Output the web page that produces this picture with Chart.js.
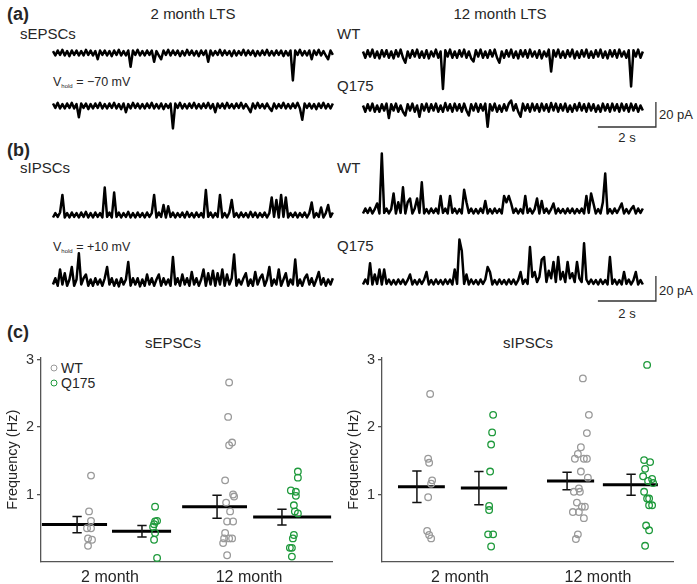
<!DOCTYPE html>
<html>
<head>
<meta charset="UTF-8">
<title>LTS interneurons - sEPSCs / sIPSCs</title>
<style>
  body { margin: 0; background: #fff; font-family: "Liberation Sans", Arial, sans-serif; color: #262626; }
  #fig { position: relative; width: 697px; height: 584px; overflow: hidden; }
  #fig canvas { position: absolute; }
  .t { position: absolute; white-space: nowrap; line-height: 1; transform: translateY(-50%); font-size: 15px; }
  .c { transform: translate(-50%, -50%); }
  .b { font-weight: bold; font-size: 18px; }
  .v { font-size: 12.5px; }
  .v span { font-size: 6px; position: relative; top: 2px; }
  .sc { font-size: 13px; }
  .dot { position: absolute; width: 5px; height: 5px; border: 1.4px solid; border-radius: 50%; transform: translate(-50%, -50%); }
</style>
</head>
<body>
<div id="fig">
  <div class="t b" style="left:7px;top:14px">(a)</div>
  <div class="t c" style="left:193px;top:13px">2 month LTS</div>
  <div class="t c" style="left:500px;top:13px">12 month LTS</div>
  <div class="t" style="left:20px;top:33px">sEPSCs</div>
  <div class="t" style="left:337px;top:33px">WT</div>
  <div class="t v" style="left:53px;top:82px">V<span>hold</span> = −70 mV</div>
  <div class="t" style="left:337px;top:85px">Q175</div>
  <div class="t sc" style="left:659px;top:114px">20 pA</div>
  <div class="t sc c" style="left:627px;top:137px">2 s</div>

  <div class="t b" style="left:7px;top:150px">(b)</div>
  <div class="t" style="left:20px;top:167px">sIPSCs</div>
  <div class="t" style="left:337px;top:167px">WT</div>
  <div class="t v" style="left:53px;top:247px">V<span>hold</span> = +10 mV</div>
  <div class="t" style="left:337px;top:245px">Q175</div>
  <div class="t sc" style="left:659px;top:290px">20 pA</div>
  <div class="t sc c" style="left:627px;top:313px">2 s</div>

  <div class="t b" style="left:7px;top:332px">(c)</div>
  <div class="t c" style="left:173px;top:342px">sEPSCs</div>
  <div class="t c" style="left:528px;top:342px">sIPSCs</div>
  <div class="dot" style="left:54px;top:368px;border-color:#9a9a9a"></div>
  <div class="t" style="left:61px;top:368px;font-size:14px">WT</div>
  <div class="dot" style="left:54px;top:383px;border-color:#1f9a3c"></div>
  <div class="t" style="left:61px;top:383px;font-size:14px">Q175</div>

  <canvas id="tr1" width="286" height="50" style="left:50px;top:38px"></canvas>
  <canvas id="tr2" width="286" height="45" style="left:50px;top:90px"></canvas>
  <canvas id="tr3" width="286" height="55" style="left:360px;top:38px"></canvas>
  <canvas id="tr4" width="310" height="45" style="left:360px;top:90px"></canvas>
  <canvas id="tr5" width="286" height="48" style="left:50px;top:180px"></canvas>
  <canvas id="tr6" width="286" height="50" style="left:50px;top:245px"></canvas>
  <canvas id="tr7" width="286" height="75" style="left:360px;top:145px"></canvas>
  <canvas id="tr8" width="310" height="80" style="left:360px;top:228px"></canvas>

  <canvas id="epscChart" width="345" height="254" style="left:0px;top:330px"></canvas>
  <canvas id="ipscChart" width="345" height="254" style="left:341px;top:330px"></canvas>
</div>

<script src="https://cdn.jsdelivr.net/npm/chart.js"></script>
<script>
  // current traces (pA), downsampled, 120 samples over the 9.65 s sweep
  const epsc2moWT = [
    1.5,-2,2,-1.5,2.5,-2,1.5,-2.5,2,-1.5,2,-2,1.5,-2,2.5,-1.5,2,-2,1.5,-5,
    2,-1.5,2,-2,1.5,-2.5,2,-1.5,2.5,-2,1.5,-2,2,-11,2,-1.5,2.5,-2,1.5,-2,
    2,-1.5,2,-7,1.5,-2,-5,2,-1.5,2.5,-2,2,-1.5,2,-2.5,1.5,-2,2.5,-1.5,2,
    -2,1.5,-2.5,2,-1.5,2,-7,2,-2,1.5,-1.5,2.5,-2,2,-1.5,1.5,-2.5,2,-2,1.5,
    -1.5,2.5,-2,2,-1.5,2,-2.5,1.5,-2,2,-1.5,2.5,-2,1.5,-2,2,-1.5,2,-2.5,1.5,
    -2,2,-22,2,-1.5,2.5,-2,1.5,-2,2,-5,2,-1.5,2.5,-2,1.5,-2,-5,2,-1.5
  ];
  const epsc2moQ175 = [
    2,-1.5,2.5,-2,1.5,-2,2,-1.5,2.5,-2,1.5,-9,2,-1.5,2,-2.5,1.5,-2,2,-1.5,
    2.5,-2,1.5,-2,2,-1.5,2.5,-2,1.5,-2.5,2,-5,1.5,-2,2.5,-1.5,2,-2,1.5,-2,
    2,-1.5,2.5,-2,1.5,-2,2,-2.5,1.5,-1.5,2,-18,2,-1.5,2.5,-2,1.5,-2,2,-1.5,
    2.5,-2,1.5,-2,2,-1.5,2.5,-2,1.5,-5,2,-1.5,2,-2,2.5,-1.5,1.5,-2,2,-1.5,
    2.5,-2,1.5,-1.5,-5,2,-2,2.5,-1.5,1.5,-2,2,-1.5,-4,2,-2,1.5,-1.5,2.5,-2,
    1.5,-2,2,-1.5,2.5,-2,-11,2,-1.5,2,-2,1.5,-2.5,2,-1.5,2.5,-2,1.5,-2,2
  ];
  const epsc12moWT = [
    2,-3,3,-2,3.5,-3,2,-3.5,3,-2,3,-3,2,-3.5,3,-2,3.5,-3,-7,2,
    -3,3,-2,3.5,-3,2,-3,3,-3.5,2,-2,3.5,-3,2,-28,3,-2,3.5,-3,2,
    -3,3,-2,3.5,-3,2,-3.5,-6,3,-2,3.5,-3,2,-3,3,-2,3.5,-3,-7,2,
    -3,3,-2,3.5,-3,2,-3.5,3,-2,3,-3,3.5,-2,2,-3,3,-3.5,2,-2,3.5,
    -14,3,-2,3.5,-3,2,-3,3,-2,3.5,-3.5,2,-3,3,-2,3.5,-3,2,-3,3,
    -2,3.5,-3,2,-3.5,3,-2,3,-3,3.5,-2,2,-3,3,-26,3,-2,3.5,-3,2
  ];
  const epsc12moQ175 = [
    2,-3,3,-2,3.5,-3,2,-3,3,-2,3.5,-8,3,-2,3.5,-3,2,-3,-6,3,
    -2,3.5,-3,2,-7,3,-2,3.5,-3,3,-2,3.5,-3,2,-3,4,-2,3,-3,3.5,
    -2,3,-3,3.5,-2,-6,3,-2,3.5,-3,3,-2,3.5,-15,3,-2,3.5,-3,2,-3,
    3,-2,3.5,6,-2,3,-3,-7,3.5,-2,3,-3,3.5,-2,3,-3,3.5,-2,3,-3,
    4,-2,3.5,-3,3,-2,3.5,-3,2,-3,3,-2,4,-2,3,-3,3.5,-2,3,-3,
    2,-3,3.5,-2,3,-3,3.5,-2,3,-3,3.5,-2,3,-3,3.5,-2,3,-3,2,-2
  ];
  const ipsc2moWT = [
    -2,1.5,-1.5,2,16,-2,1.5,-2,2,-1.5,1.5,-2,2,-1.5,2.5,-2,1.5,-2,2,-1.5,
    1.5,-2,22,-1.5,2,-2,18,-1.5,2,-2,1.5,-1.5,2.5,-2,1.5,-2,2,-1.5,1.5,-2,
    2,-1.5,1.5,16,-2,2,-1.5,8,-2,7,-1.5,2,-2,1.5,-1.5,2,-2,2.5,-1.5,1.5,
    -2,2,-1.5,1.5,-2,20,-1.5,2,-2,1.5,-1.5,16,-2,1.5,-2,2,12,-1.5,1.5,-2,
    2,-1.5,1.5,-2,2.5,-1.5,2,-2,1.5,-1.5,2,-2,1.5,14,-1.5,12,-2,16,-1.5,14,
    -2,1.5,-1.5,2,-2,1.5,-1.5,2,-2,1.5,10,-2,1.5,-1.5,6,-2,1.5,8,-1.5,2
  ];
  const ipsc2moQ175 = [
    -2,3,-3,10,-2,7,-3,2,12,-3,2,23,-2,3,6,-3,2,-3,3,-2,
    2,-3,3,12,-2,3,-3,2,-3.5,3,-2,2,16,-3,3,-2,3,-3.5,2,-3,
    6,-2,3,-3,2,6,-3,3,-2,2,-3,20,-2,3,-3,6,-2,3,-3,8,
    -2,3,-3,2,10,-3,7,-2,9,-3,7,-2,10,-3,6,-2,3,22,-3,2,
    -2,3,7,-3,2,-3,8,-2,3,6,-3,2,12,-3,2,-2,10,-3,2,7,
    -3,2,-2,18,-3,2,-3,3,6,-2,3,-3,2,8,-2,3,-3,2,-2,3
  ];
  const ipsc12moWT = [
    -2,2,-1.5,2.5,-2,1.5,6,-2,46,-1.5,2,-2,1.5,14,-2,7,-1.5,19,-2,7,
    10,-2,2,10,-1.5,23,-2,1.5,-2,2,-1.5,2,-2,12,-1.5,2,-2,12,-1.5,2,
    -2,1.5,-2,17,7,-1.5,2,-2,1.5,-2,2,-1.5,8,-2,1.5,-2,2,-1.5,1.5,-2,
    12,7,12,6,-1.5,2,-2,1.5,-2,12,-1.5,2,-2,1.5,10,-2,8,-1.5,2,-2,
    1.5,6,-2,2,-1.5,1.5,-2,2,-1.5,2,-2,1.5,-1.5,2,-2,12,-1.5,14,6,-2,
    1.5,-2,7,30,-2,1.5,-2,2,-1.5,2,6,-2,1.5,-2,1.5,4,-2,2,-1.5,2
  ];
  const ipsc12moQ175 = [
    -2,2,-1.5,15,-2,6,-1.5,10,-2,10,-1.5,2,-2,1.5,-2,2,-1.5,2,-2,1.5,
    6,-2,1.5,-2,2,-1.5,2,8,-2,1.5,-2,2,-1.5,1.5,-2,2,-1.5,2,-2,10,
    -1.5,34,25,-1.5,6,-2,2,-1.5,1.5,-2,2,-1.5,2,12,8,-2,1.5,-2,2,-1.5,
    1.5,-2,2,-1.5,2,-2,1.5,8,-1.5,2,-1.5,28,4,8,0,4,18,20,0,9,
    3,16,0,20,2,8,0,16,3,7,0,16,3,0,31,2,-1.5,2,-1.5,1.5,
    -2,2,-1.5,1.5,-2,20,-1.5,2,-2,1.5,-2,8,-1.5,2,-2,1.5,8,-2,1.5,-2
  ];

  // event frequency per cell (Hz)
  const groupLabels = ["2 month", "12 month"];
  const yTicks = [1, 2, 3];

  const epscWT2mo = [1.28, 0.75, 0.61, 0.50, 0.50, 0.35, 0.33, 0.24];
  const epscQ2mo = [0.82, 0.61, 0.60, 0.56, 0.52, 0.43, 0.33, 0.06];
  const epscWT12mo = [2.66, 2.15, 1.73, 1.77, 1.21, 1.00, 0.97, 0.88, 0.75, 0.60, 0.60, 0.43, 0.35, 0.35, 0.35, 0.28, 0.10];
  const epscQ12mo = [1.34, 1.25, 1.06, 1.04, 0.98, 0.84, 0.75, 0.72, 0.40, 0.35, 0.21, 0.21, 0.08];
  const epscMean = [0.555, 0.455, 0.82, 0.665];
  const epscSem = [0.12, 0.085, 0.17, 0.115];

  const ipscWT2mo = [2.49, 1.53, 1.47, 1.21, 1.16, 0.96, 0.46, 0.40, 0.35];
  const ipscQ2mo = [2.18, 1.92, 1.74, 1.34, 0.83, 0.77, 0.41, 0.41, 0.23];
  const ipscWT12mo = [2.72, 2.18, 1.91, 1.70, 1.60, 1.53, 1.53, 1.53, 1.34, 1.25, 1.09, 1.04, 1.04, 0.88, 0.82, 0.82, 0.74, 0.74, 0.65, 0.41, 0.34];
  const ipscQ12mo = [2.92, 1.51, 1.48, 1.38, 1.27, 1.23, 1.20, 1.17, 1.04, 0.94, 0.94, 0.84, 0.84, 0.54, 0.47, 0.24];
  const ipscMean = [1.115, 1.095, 1.20, 1.145];
  const ipscSem = [0.235, 0.245, 0.13, 0.155];

  // horizontal scatter of the dots (px), as in the figure
  const epscJitter = [
    [2, 0, 2, -2, 2, -1, 3, -1],
    [0, 2, 0, -1, -2, 0, -1, 2],
    [1, 0, 1, 4, -3, 5, 6, -2, 2, -1, 5, -3, -4, 1, 4, -5, -1],
    [4, 4, -3, 2, 2, 0, 1, 4, 0, -1, -4, -2, -2]
  ];
  const ipscJitter = [
    [1, -1, 0, 3, 2, -1, -2, 0, 2],
    [2, 1, 0, -1, -2, -2, -3, 2, 0],
    [3, 9, 7, 1, -2, -5, 4, 7, 1, 8, -1, -6, 0, -3, 2, 5, -7, -1, 4, -2, -4],
    [0, -3, 3, -2, -4, 5, 1, 6, -3, 0, 2, 2, 5, -1, 2, -2]
  ];

  const FONT = '"Liberation Sans", Arial, sans-serif';
  Chart.defaults.font.family = FONT;

  // ---- traces ----
  const PX_PER_S = 29;
  const PX_PER_PA = 1.25;
  const TRACE_S = 9.65;
  const PAD = 3;

  function drawTrace(id, values, baseY, scaleBarBottom) {
    const cv = document.getElementById(id);
    const top = parseFloat(cv.style.top);
    const yMax = (baseY - top) / PX_PER_PA;
    const yMin = yMax - cv.height / PX_PER_PA;
    const dt = TRACE_S / (values.length - 1);
    const datasets = [{
      data: values.map((v, i) => ({ x: i * dt, y: v })),
      borderColor: "#000",
      borderWidth: 2.5,
      borderJoinStyle: "round",
      pointRadius: 0,
    }];
    if (scaleBarBottom !== undefined) {
      // 2 s / 20 pA scale bar, right of the sweep
      const xEnd = TRACE_S + 0.45;
      const yb = (baseY - scaleBarBottom) / PX_PER_PA;
      datasets.push({
        data: [{ x: xEnd - 2, y: yb }, { x: xEnd, y: yb }, { x: xEnd, y: yb + 20 }],
        borderColor: "#333",
        borderWidth: 1.3,
        borderJoinStyle: "miter",
        pointRadius: 0,
      });
    }
    new Chart(cv, {
      type: "line",
      data: { datasets: datasets },
      options: {
        responsive: false,
        animation: false,
        events: [],
        layout: { padding: 0 },
        plugins: { legend: { display: false }, tooltip: { enabled: false } },
        scales: {
          x: { type: "linear", display: false, min: -PAD / PX_PER_S, max: (cv.width - PAD) / PX_PER_S },
          y: { display: false, min: yMin, max: yMax },
        },
      },
    });
  }

  drawTrace("tr1", epsc2moWT, 53);
  drawTrace("tr2", epsc2moQ175, 106);
  drawTrace("tr3", epsc12moWT, 54);
  drawTrace("tr4", epsc12moQ175, 108, 127);
  drawTrace("tr5", ipsc2moWT, 215);
  drawTrace("tr6", ipsc2moQ175, 282);
  drawTrace("tr7", ipsc12moWT, 211);
  drawTrace("tr8", ipsc12moQ175, 282, 301);

  // ---- frequency plots ----
  const PX_PER_UNIT = 29.1;
  const GRAY = "#9a9a9a";
  const GREEN = "#1f9a3c";

  function drawFreq(id, groups, jitter, mean, sem, lay) {
    const pts = (g) => groups[g].map((v, i) => ({ x: lay.pointX[g] + jitter[g][i] / PX_PER_UNIT, y: v }));
    const meanData = [];
    const errData = [];
    const cap = 0.16;
    for (let g = 0; g < 4; g++) {
      meanData.push({ x: lay.meanSpan[g][0], y: mean[g] }, { x: lay.meanSpan[g][1], y: mean[g] }, { x: lay.meanSpan[g][1], y: null });
      const cx = lay.errX[g], hi = mean[g] + sem[g], lo = mean[g] - sem[g];
      errData.push(
        { x: cx - cap, y: hi }, { x: cx + cap, y: hi }, { x: cx, y: null },
        { x: cx, y: hi }, { x: cx, y: lo }, { x: cx, y: null },
        { x: cx - cap, y: lo }, { x: cx + cap, y: lo }, { x: cx, y: null }
      );
    }
    const dot = (color) => ({
      pointStyle: "circle",
      pointRadius: 3.3,
      pointBorderWidth: 1.3,
      borderColor: color,
      backgroundColor: "rgba(0,0,0,0)",
      showLine: false,
    });
    new Chart(document.getElementById(id), {
      type: "scatter",
      data: {
        datasets: [
          Object.assign({ label: "WT", data: pts(0).concat(pts(2)) }, dot(GRAY)),
          Object.assign({ label: "Q175", data: pts(1).concat(pts(3)) }, dot(GREEN)),
          { data: errData, showLine: true, borderColor: "#111", borderWidth: 1.5, pointRadius: 0 },
          { data: meanData, showLine: true, borderColor: "#000", borderWidth: 3, pointRadius: 0 },
        ],
      },
      options: {
        responsive: false,
        animation: false,
        events: [],
        layout: { padding: { top: 27.5, right: 13, left: 0, bottom: 0 } },
        plugins: { legend: { display: false }, tooltip: { enabled: false } },
        scales: {
          x: {
            type: "linear",
            min: 0,
            max: 10,
            afterFit: (s) => { s.height = 22; },
            afterBuildTicks: (s) => { s.ticks = lay.tickX.map((v) => ({ value: v })); },
            ticks: {
              callback: (v, i) => groupLabels[i],
              font: { size: 16 },
              color: "#262626",
              padding: 6,
              maxRotation: 0,
              autoSkip: false,
            },
            grid: { display: false, drawTicks: false },
            border: { display: true, color: "#555", width: 1.3 },
          },
          y: {
            min: 0,
            max: 3.03,
            afterFit: (s) => { s.width = 41; },
            afterBuildTicks: (s) => { s.ticks = yTicks.map((v) => ({ value: v })); },
            ticks: { font: { size: 14.5 }, color: "#333", padding: 3 },
            grid: { display: true, drawOnChartArea: false, drawTicks: true, tickLength: 4, color: "#555", lineWidth: 1.3 },
            border: { display: true, color: "#555", width: 1.3 },
            title: { display: true, text: "Frequency (Hz)", font: { size: 14.5 }, color: "#262626", padding: { top: 4, bottom: 0 } },
          },
        },
      },
    });
  }

  drawFreq("epscChart", [epscWT2mo, epscQ2mo, epscWT12mo, epscQ12mo], epscJitter, epscMean, epscSem, {
    pointX: [1.65, 3.92, 6.43, 8.69],
    errX: [1.24, 3.47, 6.05, 8.28],
    meanSpan: [[0.03, 2.27], [2.44, 4.47], [4.85, 7.08], [7.29, 9.97]],
    tickX: [2.37, 7.15],
  });
  drawFreq("ipscChart", [ipscWT2mo, ipscQ2mo, ipscWT12mo, ipscQ12mo], ipscJitter, ipscMean, ipscSem, {
    pointX: [1.62, 3.75, 6.80, 9.11],
    errX: [1.20, 3.33, 6.36, 8.56],
    meanSpan: [[0.55, 2.16], [2.71, 4.30], [5.67, 7.29], [7.59, 9.48]],
    tickX: [2.68, 7.42],
  });
</script>
</body>
</html>
